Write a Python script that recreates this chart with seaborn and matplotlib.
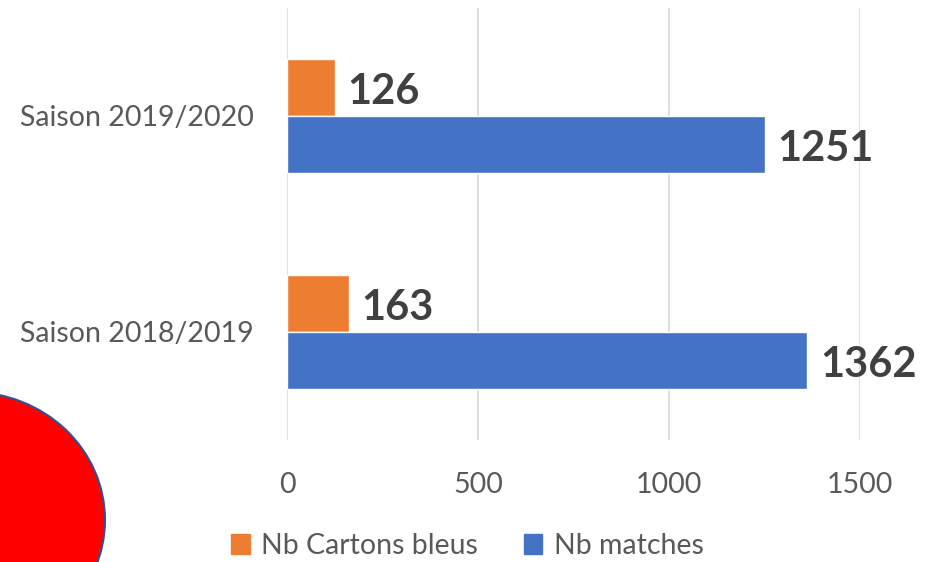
import pandas as pd
import matplotlib.pyplot as plt
import seaborn as sns
from matplotlib.patches import Ellipse, Patch

# data
saisons = ['Saison 2019/2020', 'Saison 2018/2019']
series = ['Nb Cartons bleus', 'Nb matches']
cartons_bleus = [126, 163]
nb_matches = [1251, 1362]
colors = ['#ED7D31', '#4472C4']

df = pd.DataFrame({
    'saison': saisons * 2,
    'serie': [series[0]] * 2 + [series[1]] * 2,
    'valeur': cartons_bleus + nb_matches,
})

sns.set_style('white')
plt.rcParams['font.family'] = ['Lato', 'DejaVu Sans']

fig = plt.figure(figsize=(9.35, 5.62), dpi=100)
ax = fig.add_axes([287 / 935, 1 - 440 / 562, (860 - 287) / 935, (440 - 8) / 562])

sns.barplot(data=df, y='saison', x='valeur', hue='serie', order=saisons,
            hue_order=series, palette=colors, orient='h', width=0.525,
            saturation=1, ax=ax, legend=False)

for cont in ax.containers:
    labels = ax.bar_label(cont, padding=9, fontsize=30, fontweight='bold', color='#404040')
    # nudge labels a little below the bar centre, as in the original
    for t in labels:
        t.xyann = (t.xyann[0], -3)

ax.set_xlim(0, 1500)
ax.set_xticks([0, 500, 1000, 1500])
ax.set_xlabel('')
ax.set_ylabel('')
ax.grid(axis='x', color='#D9D9D9', linewidth=1.2)
ax.grid(axis='y', visible=False)
ax.set_axisbelow(True)
for s in ax.spines.values():
    s.set_visible(False)
ax.tick_params(axis='x', length=0, pad=23, labelsize=20.5, labelcolor='#595959')
ax.tick_params(axis='y', length=0, pad=24, labelsize=20.5, labelcolor='#595959')

handles = [Patch(color=c) for c in colors]
fig.legend(handles, series, loc='center', bbox_to_anchor=(0.5, 1 - 546 / 562),
           ncol=2, frameon=False, fontsize=20.5, labelcolor='#595959',
           handlelength=0.65, handleheight=0.65, handletextpad=0.4, columnspacing=1.6)

# red ellipse in the lower left corner
ell = Ellipse((-30 / 935, 1 - 520 / 562), 270 / 935, 256 / 562,
              transform=fig.transFigure, facecolor='#FF0000',
              edgecolor='#2F528F', linewidth=1.5, clip_on=False)
fig.patches.append(ell)

fig.savefig('out.png', dpi=100)
